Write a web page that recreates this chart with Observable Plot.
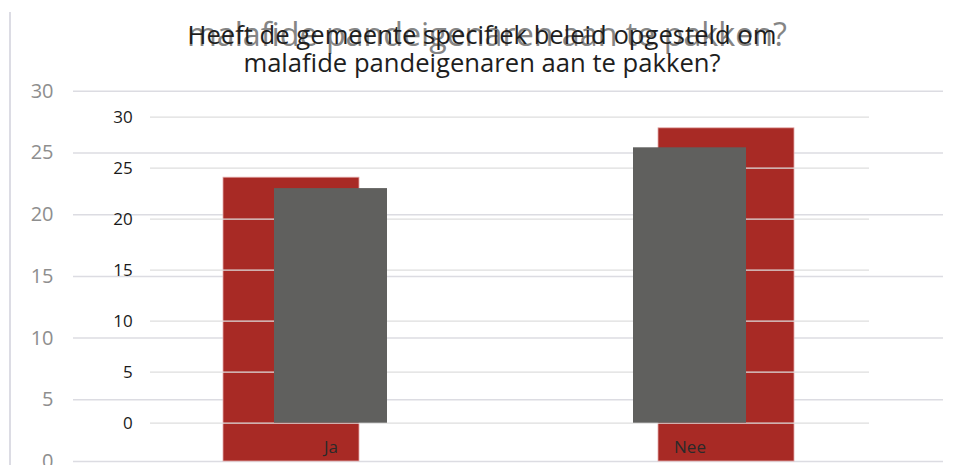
<!DOCTYPE html>
<html><head><meta charset="utf-8">
<script src="https://cdn.jsdelivr.net/npm/d3@7"></script>
<script src="https://cdn.jsdelivr.net/npm/@observablehq/plot@0.6"></script>
<style>
body{margin:0;background:#fff;}
#wrap{position:relative;width:961px;height:465px;overflow:hidden;font-family:"Open Sans",sans-serif;background:#fff;}
.layer{position:absolute;left:0;top:0;}
.ttl{position:absolute;white-space:nowrap;text-align:center;}
#vline{position:absolute;left:9px;top:12px;width:2px;height:460px;background:#dcdce4;}
</style></head><body><div id="wrap"><div id="vline"></div></div>
<script>
const categories = ["Ja", "Nee"];
const backValues = [23, 27];
const frontValues = [23, 27];
const yTicks = [0, 5, 10, 15, 20, 25, 30];
const titleLines = ["Heeft de gemeente specifiek beleid opgesteld om", "malafide pandeigenaren aan te pakken?"];

const backData = categories.map((c, i) => ({cat: c, value: backValues[i]}));
const frontData = categories.map((c, i) => ({cat: c, value: frontValues[i]}));

const wrap = document.getElementById("wrap");
const FONT = '"Open Sans", sans-serif';

function measure(text, size) {
  const c = document.createElement("canvas").getContext("2d");
  c.font = size + "px " + FONT;
  return c.measureText(text).width;
}

// ---- back (larger, faded) chart ----
const back = Plot.plot({
  width: 961, height: 520,
  marginLeft: 73, marginRight: 18, marginTop: 90.8, marginBottom: 59,
  style: {fontFamily: FONT, background: "transparent", overflow: "visible"},
  x: {domain: categories, paddingInner: 0.6874, paddingOuter: 0.3437, label: null, axis: null},
  y: {domain: [0, 30], label: null},
  marks: [
    Plot.gridY(yTicks, {stroke: "#dcdce2", strokeOpacity: 1, strokeWidth: 1.5}),
    Plot.barY(backData, {x: "cat", y: "value", fill: "#a82a25", stroke: "#e3aaaa", strokeWidth: 0.8}),
    Plot.axisY({ticks: yTicks, tickSize: 0, tickPadding: 20, fontSize: 20, fill: "#8e8e8e"})
  ]
});
back.classList.add("layer");
wrap.appendChild(back);

// back title (only second line visible)
const bt = document.createElement("div");
bt.className = "ttl";
bt.textContent = titleLines[1];
const btSize = 29 * 600 / measure(titleLines[1], 29);
bt.style.cssText += `left:187px;top:${46.7 - btSize * 1.069}px;font-size:${btSize}px;line-height:${btSize * 1.362}px;color:#858585;`;
wrap.appendChild(bt);

// ---- front chart ----
const front = Plot.plot({
  width: 961, height: 465,
  marginLeft: 150, marginRight: 92, marginTop: 116.7, marginBottom: 42.3,
  style: {fontFamily: FONT, background: "transparent", overflow: "visible"},
  x: {domain: categories, paddingInner: 0.6865, paddingOuter: 0.3432, label: null},
  y: {domain: [0, 30], label: null},
  marks: [
    Plot.gridY(yTicks, {stroke: "#dedede", strokeOpacity: 1, strokeWidth: 1.2}),
    Plot.barY(frontData, {x: "cat", y: "value", fill: "#60605e"}),
    Plot.axisY({ticks: yTicks, tickSize: 0, tickPadding: 17.7, fontSize: 17, fill: "#1a1a1a"}),
    Plot.axisX({tickSize: 0, tickPadding: 18, fontSize: 17, fill: "#2a2a2a"})
  ]
});
front.classList.add("layer");
wrap.appendChild(front);

// front title (two lines)
const w1 = measure(titleLines[0], 20), w2 = measure(titleLines[1], 20);
const ftSize = 20 * (590 + 477) / (w1 + w2);
const baselines = [45, 73.5];
titleLines.forEach((t, i) => {
  const d = document.createElement("div");
  d.className = "ttl";
  d.textContent = t;
  d.style.cssText += `left:0;width:964px;top:${baselines[i] - ftSize * 1.069}px;font-size:${ftSize}px;line-height:${ftSize * 1.362}px;color:#1e1e1e;`;
  wrap.appendChild(d);
});
</script>
</body></html>
